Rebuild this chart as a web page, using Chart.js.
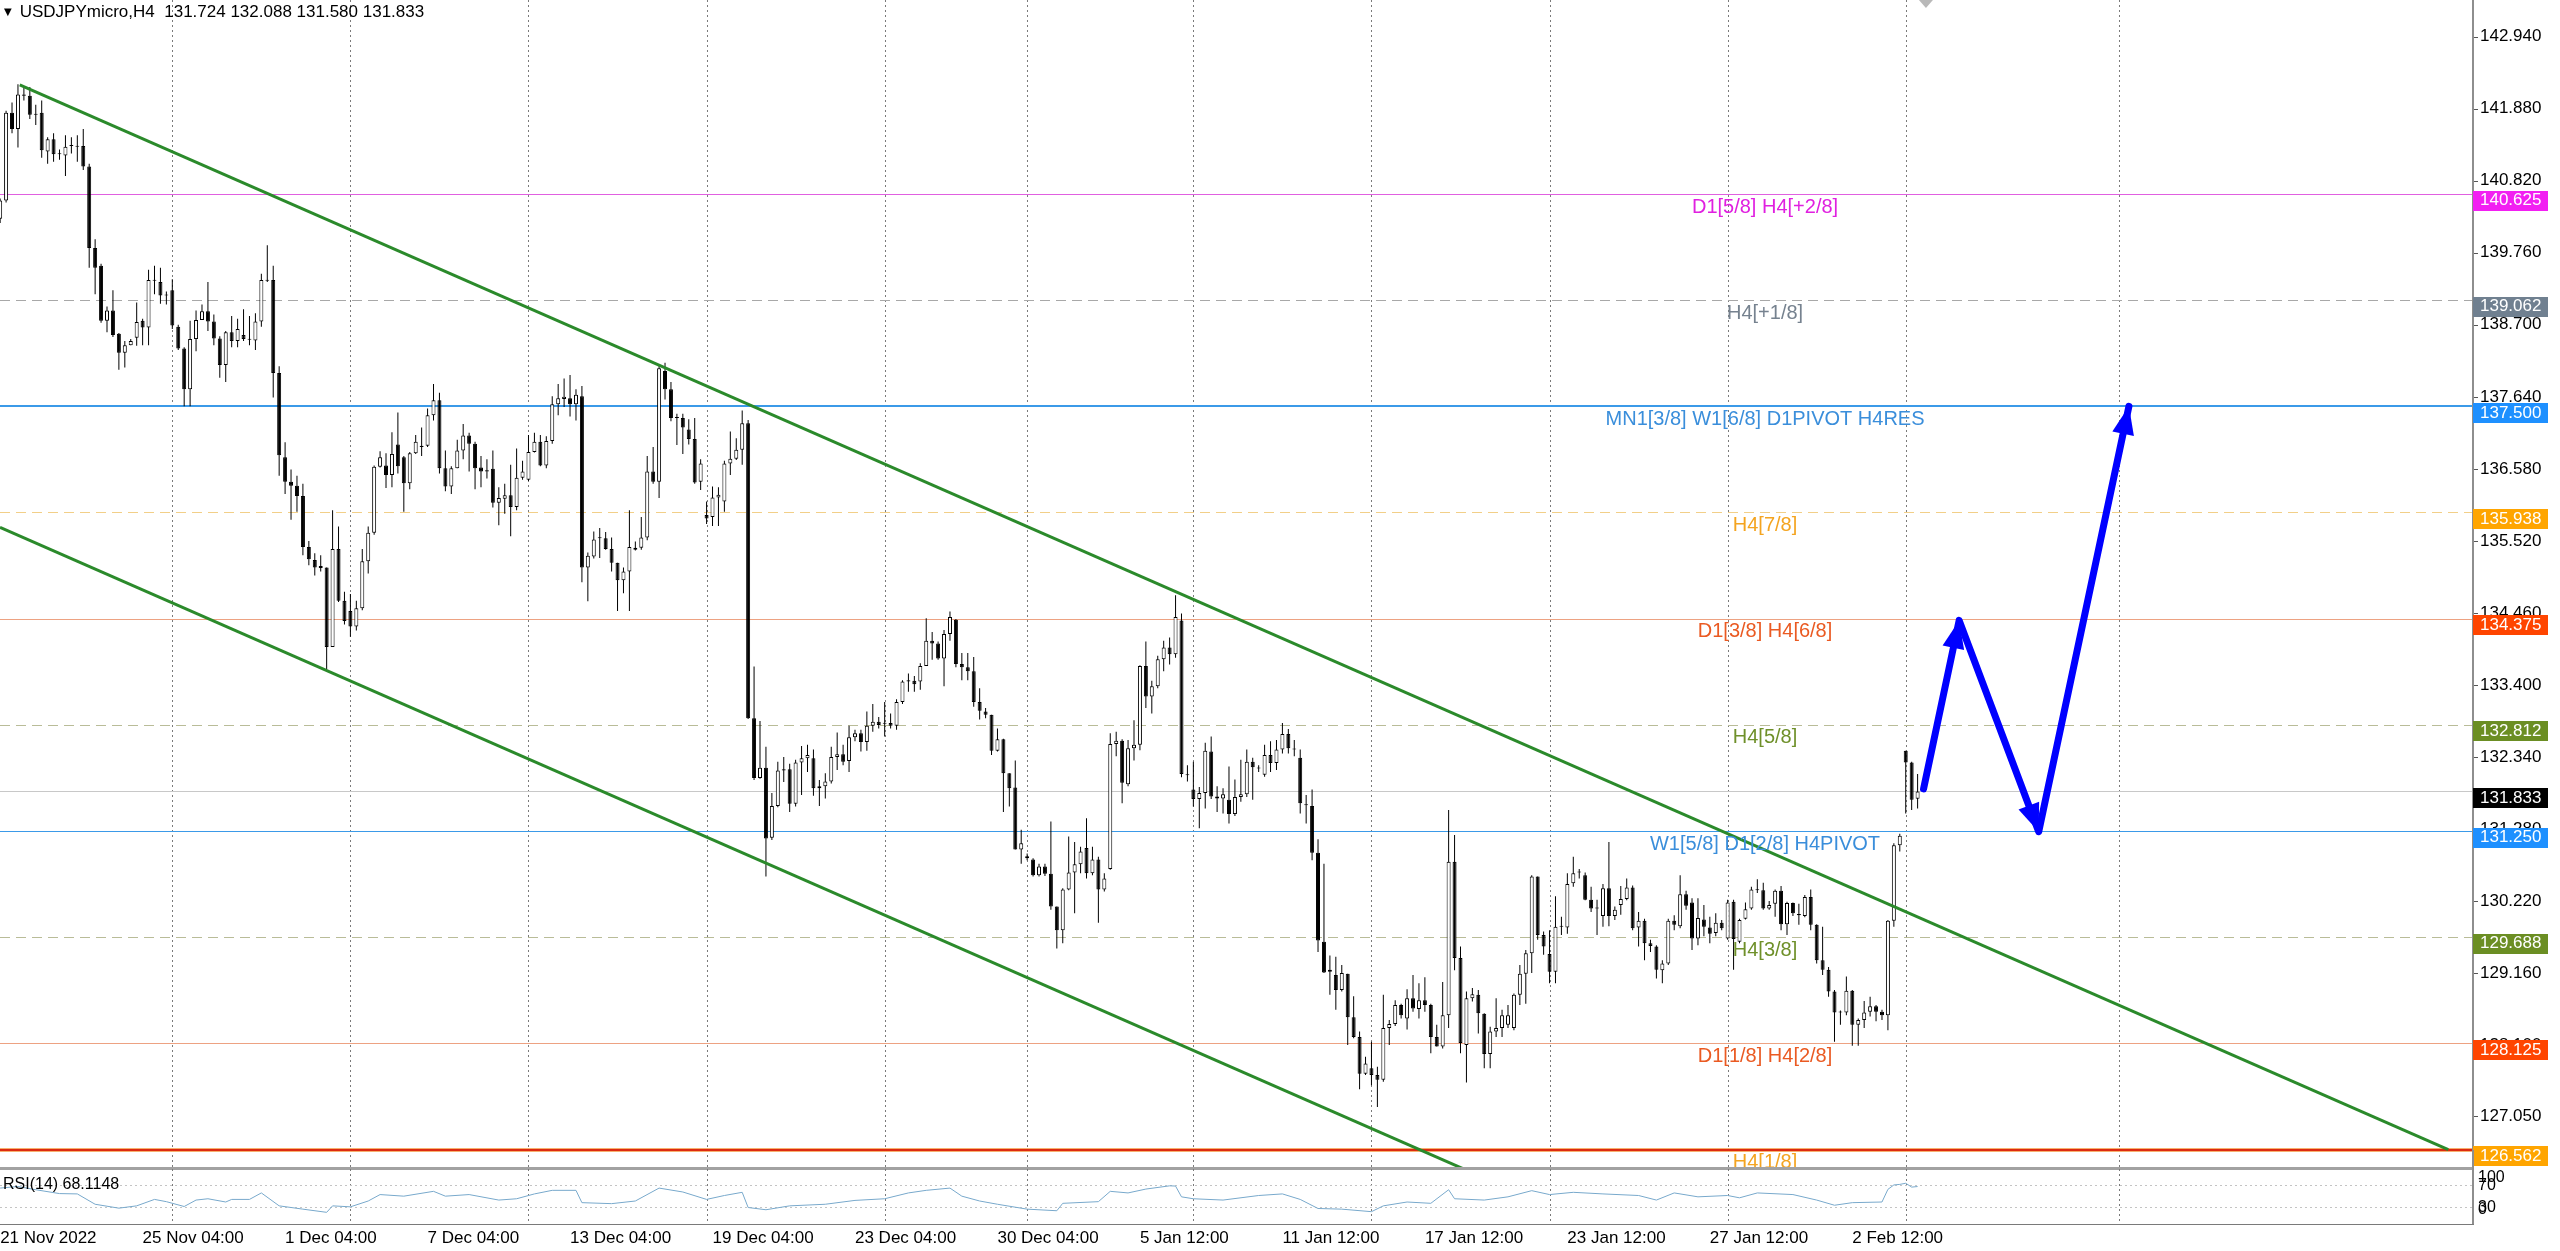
<!DOCTYPE html>
<html>
<head>
<meta charset="utf-8">
<title>USDJPYmicro,H4</title>
<script src="https://cdn.jsdelivr.net/npm/chart.js@4.4.1/dist/chart.umd.min.js"></script>
<style>
  html, body { margin: 0; padding: 0; background: #fff; }
  body { position: relative; width: 2560px; height: 1251px; overflow: hidden; font-family: "Liberation Sans", Arial, sans-serif; }
  canvas { position: absolute; left: 0; }
  #mainChart { top: 0; }
  #rsiChart { top: 1150px; }
  .caption { position: absolute; color: #000; white-space: pre; line-height: 20px; }
  #title { left: 4px; top: 2px; font-size: 17px; }
  #title .tri { font-family: "DejaVu Sans"; font-size: 10px; position: relative; top: -2px; margin-right: 8px; }
  #rsiTitle { left: 3px; top: 1174px; font-size: 16px; }
</style>
</head>
<body>
<canvas id="mainChart" width="2560" height="1171"></canvas>
<canvas id="rsiChart" width="2560" height="101"></canvas>
<div id="title" class="caption"></div>
<div id="rsiTitle" class="caption"></div>

<script>
// ---------- data (H4 bars, bar 1 = 21 Nov 2022 04:00) ----------
const symbolName = 'USDJPYmicro,H4';
const firstBar = 1;

const opens = [
  140.26,140.53,141.82,141.58,142.09,142.07,141.80,141.82,141.25,141.43,
  141.21,141.19,141.33,141.33,141.33,141.03,139.83,139.57,138.76,138.91,
  138.57,138.29,138.40,138.51,138.76,138.66,139.36,139.33,139.13,139.21,
  138.67,138.35,137.75,138.49,138.77,138.90,138.75,138.50,138.11,138.59,
  138.46,138.55,138.49,138.47,138.75,139.35,139.36,137.99,136.75,136.39,
  136.33,136.18,135.43,135.24,135.12,135.13,133.96,135.40,134.64,134.49,
  134.26,134.53,135.22,135.64,136.61,136.63,136.49,136.94,136.75,136.37,
  136.81,136.90,136.92,137.37,137.59,136.59,136.32,136.59,136.85,137.07,
  136.95,136.60,136.56,136.58,136.08,136.14,136.19,136.02,136.45,136.42,
  136.83,136.98,136.63,136.99,137.53,137.61,137.62,137.53,137.65,135.13,
  135.29,135.56,135.56,135.40,135.20,134.94,135.07,135.39,135.42,135.57,
  136.54,136.39,138.02,137.75,137.33,137.33,137.16,137.02,136.39,135.90,
  135.87,136.16,136.10,136.66,136.73,136.86,137.25,132.91,132.03,132.18,
  131.15,131.62,132.14,132.16,131.65,132.26,132.32,132.32,131.88,131.91,
  131.98,132.34,132.38,132.28,132.63,132.69,132.56,132.80,132.86,132.83,
  132.84,132.80,133.15,133.45,133.46,133.45,133.68,134.05,134.01,133.79,
  134.15,134.36,133.71,133.66,133.60,133.15,133.01,132.96,132.43,132.60,
  132.10,131.89,130.98,130.88,130.83,130.60,130.73,130.62,130.14,129.79,
  130.39,130.64,130.76,131.00,130.63,130.83,130.39,130.69,132.53,132.58,
  131.94,132.47,132.52,133.68,133.23,133.38,133.78,133.95,133.85,134.35,
  132.07,131.86,131.72,131.81,132.42,131.76,131.73,131.71,131.50,131.75,
  131.79,132.27,132.17,132.08,132.37,132.25,132.45,132.68,132.46,132.33,
  131.63,131.62,130.93,129.62,129.18,129.13,128.91,129.15,128.51,128.22,
  127.68,127.76,127.66,127.59,128.35,128.41,128.69,128.49,128.79,128.63,
  128.76,128.69,128.22,128.08,128.54,130.80,129.38,128.10,128.79,128.84,
  128.56,127.97,128.30,128.35,128.40,128.35,128.84,129.15,129.45,130.58,
  129.72,129.44,129.18,129.84,129.83,130.48,130.64,130.60,130.24,130.11,
  130.00,130.41,130.00,130.16,130.25,130.42,129.83,129.93,129.60,129.55,
  129.20,129.30,129.93,129.85,130.32,130.20,129.67,129.95,129.83,129.75,
  129.90,129.67,130.21,129.62,129.96,130.11,130.38,130.38,130.11,130.18,
  130.37,129.88,130.19,130.03,130.00,130.28,129.87,129.35,129.21,128.89,
  128.58,128.58,128.90,128.40,128.47,128.59,128.67,128.59,128.54,129.93,
  131.04,132.43,132.26,131.724
];
const highs = [
  140.56,141.85,141.97,142.24,142.21,142.20,141.94,142.00,141.46,141.52,
  141.28,141.49,141.46,141.49,141.58,141.07,139.96,139.60,138.97,139.21,
  138.58,138.46,138.49,139.03,138.79,139.51,139.57,139.54,139.19,139.37,
  138.70,138.37,138.76,138.91,139.00,139.33,138.85,138.53,138.61,138.83,
  138.79,138.93,138.83,138.87,139.45,139.87,139.57,138.09,136.97,136.57,
  136.48,136.36,135.52,135.34,135.31,135.13,135.97,135.73,134.77,134.74,
  134.64,135.40,135.73,136.63,136.84,136.81,137.12,137.41,136.77,136.83,
  137.08,137.19,137.47,137.83,137.70,136.85,136.62,137.01,137.24,137.11,
  136.98,136.77,136.72,136.85,136.31,136.36,136.64,136.88,136.70,137.08,
  137.11,137.08,137.06,137.65,137.83,137.91,137.96,137.75,137.80,135.35,
  135.66,135.71,135.65,135.57,135.20,135.13,135.97,135.51,135.87,136.77,
  136.90,138.11,138.14,137.86,137.39,137.39,137.31,137.33,136.72,136.10,
  136.32,136.31,136.70,137.13,137.03,137.44,137.30,133.67,132.87,132.49,
  131.81,132.27,132.34,132.24,132.30,132.50,132.52,132.45,132.00,132.10,
  132.49,132.70,132.52,132.80,132.74,132.74,133.01,133.12,132.93,133.15,
  132.98,133.19,133.47,133.57,133.53,133.72,134.38,134.18,134.04,134.21,
  134.48,134.37,133.87,133.87,133.81,133.35,133.06,132.96,132.76,132.61,
  132.10,132.29,131.27,130.92,130.85,130.77,130.77,131.39,130.14,130.41,
  131.17,131.09,131.02,131.44,131.02,130.87,130.63,132.69,132.71,132.60,
  132.59,132.88,133.69,134.04,133.46,133.83,134.05,134.10,134.72,134.45,
  132.22,132.27,131.90,132.55,132.64,131.91,131.88,132.20,132.01,132.30,
  132.45,132.33,132.22,132.52,132.57,132.59,132.84,132.75,132.59,132.45,
  131.78,131.86,131.13,130.77,129.42,129.40,129.28,129.15,128.82,128.30,
  127.93,128.15,127.78,128.84,128.47,128.76,128.71,128.92,129.13,129.01,
  129.10,128.71,128.40,129.03,131.56,131.19,129.55,128.89,128.94,128.91,
  128.57,128.37,128.79,128.62,128.69,128.86,129.28,129.50,130.60,130.58,
  129.77,129.79,130.29,129.99,130.63,130.87,130.69,130.64,130.43,130.24,
  130.47,131.09,130.14,130.44,130.55,130.45,130.06,129.96,129.65,129.57,
  129.35,129.96,130.01,130.60,130.37,130.26,130.26,130.16,129.99,130.04,
  129.94,130.24,130.24,129.96,130.20,130.43,130.54,130.49,130.22,130.39,
  130.44,130.21,130.20,130.18,130.31,130.39,129.88,129.84,129.25,128.91,
  128.61,129.11,128.91,128.49,128.75,128.81,128.69,128.62,129.94,131.07,
  131.21,132.43,132.27,132.088
];
const lows = [
  140.20,140.50,141.52,141.31,142.00,141.73,141.64,141.16,141.07,141.10,
  141.13,140.89,141.22,141.10,140.98,139.54,139.15,138.73,138.59,138.52,
  138.04,138.07,138.40,138.39,138.40,138.40,139.15,139.01,139.00,138.64,
  138.33,137.50,137.50,138.31,138.77,138.61,138.40,137.92,137.86,138.37,
  138.37,138.46,138.40,138.33,138.67,139.33,137.63,136.48,136.21,135.83,
  135.95,135.31,135.16,135.01,135.07,133.63,133.96,134.62,134.29,134.11,
  134.20,134.50,135.04,135.61,136.60,136.30,136.31,136.51,135.95,136.28,
  136.80,136.77,136.90,137.29,136.51,136.25,136.21,136.59,136.72,136.54,
  136.28,136.31,136.44,136.01,135.75,135.92,135.59,135.97,136.42,136.40,
  136.82,136.62,136.59,136.95,137.37,137.49,137.35,137.29,134.91,134.63,
  135.26,135.27,135.39,135.07,134.49,134.75,134.49,135.38,135.39,135.53,
  136.36,136.15,137.60,137.28,136.93,136.80,136.94,136.36,136.27,135.77,
  135.74,135.74,135.95,136.49,136.71,136.64,132.90,132.00,132.02,130.58,
  131.12,131.60,131.97,131.53,131.61,131.78,132.12,131.77,131.62,131.73,
  131.95,132.15,132.22,132.12,132.57,132.42,132.43,132.71,132.76,132.64,
  132.76,132.74,133.12,133.30,133.30,133.33,133.68,133.77,133.77,133.38,
  134.05,133.66,133.47,133.47,133.08,132.89,132.91,132.37,132.42,131.53,
  131.61,130.98,130.77,130.82,130.58,130.58,130.59,130.09,129.52,129.60,
  130.38,130.04,130.63,130.55,130.60,129.90,130.36,130.68,132.35,131.66,
  131.91,132.29,132.44,133.06,132.98,133.35,133.60,133.70,133.80,132.04,
  131.98,131.61,131.29,131.58,131.72,131.53,131.51,131.36,131.47,131.68,
  131.75,131.71,132.12,132.05,132.12,132.15,132.39,132.39,132.35,131.51,
  131.36,130.82,129.47,129.16,128.84,128.62,128.89,128.10,128.20,127.45,
  127.66,127.51,127.19,127.56,128.10,128.38,128.49,128.33,128.59,128.49,
  128.59,127.98,128.08,128.05,128.35,129.20,127.98,127.55,128.74,128.27,
  127.76,127.76,128.22,128.22,128.35,128.32,128.69,128.71,129.16,129.65,
  129.43,129.01,129.01,129.72,129.74,130.43,130.55,130.23,130.06,129.72,
  129.84,129.85,129.94,130.02,130.23,129.79,129.55,129.35,129.47,129.08,
  129.01,129.28,129.79,129.82,130.09,129.50,129.57,129.70,129.60,129.70,
  129.79,129.65,129.21,129.60,129.95,130.09,130.34,130.09,130.09,129.99,
  129.79,129.72,130.00,129.87,129.98,129.79,129.30,129.13,128.81,128.15,
  128.40,128.54,128.09,128.09,128.35,128.52,128.45,128.47,128.32,129.84,
  130.95,131.51,131.56,131.580
];
const closes = [
  140.53,141.82,141.58,142.09,142.07,141.79,141.79,141.27,141.43,141.21,
  141.22,141.32,141.33,141.32,141.03,139.83,139.54,138.76,138.91,138.55,
  138.29,138.40,138.46,138.74,138.66,139.36,139.35,139.13,139.14,138.69,
  138.35,137.75,138.49,138.77,138.90,138.75,138.50,138.11,138.59,138.46,
  138.64,138.49,138.48,138.75,139.36,139.36,137.99,136.78,136.39,136.33,
  136.18,135.43,135.25,135.13,135.15,133.96,135.40,134.64,134.34,134.26,
  134.53,135.22,135.64,136.61,136.75,136.49,136.80,136.62,136.37,136.81,
  136.98,136.92,137.37,137.59,136.59,136.32,136.59,136.85,137.07,136.95,
  136.59,136.54,136.54,136.08,136.15,136.19,136.02,136.45,136.54,136.83,
  136.98,136.63,136.99,137.53,137.62,137.64,137.53,137.67,135.13,135.30,
  135.54,135.56,135.40,135.20,134.94,135.07,135.43,135.42,135.57,136.54,
  136.39,138.06,137.75,137.33,137.33,137.19,137.02,136.38,136.66,135.85,
  136.16,136.20,136.66,136.73,136.86,137.25,132.91,132.03,132.18,131.14,
  131.62,132.14,132.16,131.65,132.26,132.32,132.37,131.88,131.91,131.98,
  132.34,132.38,132.27,132.63,132.69,132.56,132.80,132.86,132.81,132.83,
  132.80,133.15,133.45,133.47,133.41,133.68,134.05,134.01,133.79,134.15,
  134.40,133.71,133.66,133.60,133.15,133.02,132.96,132.43,132.60,132.10,
  131.88,130.98,131.07,130.85,130.60,130.73,130.62,130.14,129.79,130.39,
  130.64,130.76,130.95,130.63,130.83,130.39,130.55,132.53,132.58,131.96,
  132.47,132.52,133.68,133.23,133.38,133.78,133.95,133.85,134.40,132.09,
  132.08,131.72,131.81,132.43,131.76,131.73,131.79,131.50,131.75,131.79,
  132.27,132.19,132.17,132.37,132.25,132.45,132.68,132.47,132.45,131.66,
  131.63,130.93,129.64,129.17,129.21,128.91,129.16,128.51,128.22,127.68,
  127.83,127.66,127.59,128.35,128.41,128.69,128.54,128.79,128.64,128.76,
  128.69,128.22,128.08,128.54,130.80,129.38,128.13,128.79,128.85,128.57,
  127.97,128.30,128.35,128.54,128.54,128.84,129.15,129.45,130.58,129.72,
  129.55,129.18,129.84,129.84,130.47,130.63,130.64,130.24,130.11,130.11,
  130.41,130.00,130.09,130.25,130.42,129.82,129.93,129.60,129.56,129.21,
  129.30,129.93,129.87,130.32,130.15,129.67,129.97,129.84,129.74,129.90,
  129.82,130.20,129.66,129.94,130.10,130.39,130.38,130.11,130.16,130.37,
  129.88,130.19,130.04,130.01,130.28,129.87,129.35,129.21,128.89,128.58,
  128.58,128.90,128.40,128.47,128.58,128.67,128.59,128.54,129.93,131.04,
  131.18,132.26,131.71,131.833
];

// time axis
const timeLabels = ['21 Nov 2022','25 Nov 04:00','1 Dec 04:00','7 Dec 04:00','13 Dec 04:00','19 Dec 04:00',
  '23 Dec 04:00','30 Dec 04:00','5 Jan 12:00','11 Jan 12:00','17 Jan 12:00','23 Jan 12:00','27 Jan 12:00','2 Feb 12:00'];
const timeLabelBars = [1,25,49,73,97,121,145,169,193,217,241,265,289,313];
const weekStartBars = [30,60,90,120,150,174,202,232,262,292,322,358];
const shiftMarkBar = 325.4;

// price axis
const priceTicks = [142.94,141.88,140.82,139.76,138.70,137.64,136.58,135.52,134.46,133.40,132.34,131.28,130.22,129.16,128.10,127.05];

// Murrey levels
const levelPrices = [140.625,139.062,137.500,135.938,134.375,132.812,131.250,129.688,128.125,126.562];
const levelNames = ['D1[5/8] H4[+2/8]','H4[+1/8]','MN1[3/8] W1[6/8] D1PIVOT H4RES','H4[7/8]','D1[3/8] H4[6/8]',
  'H4[5/8]','W1[5/8] D1[2/8] H4PIVOT','H4[3/8]','D1[1/8] H4[2/8]','H4[1/8]'];

// channel and forecast (bar index, price)
const upperChannelX = [4.3, 413.4];
const upperChannelY = [142.23, 126.56];
const lowerChannelX = [0.98, 260];
const lowerChannelY = [135.72, 125.80];
const forecastX = [325, 331, 344.4, 359.6];
const forecastY = [131.87, 134.35, 131.24, 137.50];

// RSI(14)
const rsiIdx = [1,4,7,11,14,17,21,24,27,29,32,34,36,39,40,43,45,48,52,56,
  57,60,63,65,69,74,76,80,85,88,91,94,98,99,104,108,112,116,120,123,
  126,127,130,134,140,145,150,154,157,161,163,166,169,174,179,180,186,188,191,194,
  198,199,200,202,207,213,217,220,223,227,232,234,238,242,245,246,251,255,259,262,
  266,271,277,280,283,287,292,294,297,303,307,310,313,318,319,320,321,322,323,324];
const rsiVal = [65.3,68.2,62.3,55.3,54.7,35.9,28.8,33.0,44.7,40.6,31.8,43.5,45.9,40.0,44.7,44.7,56.5,33.0,27.0,21.2,
  33.0,31.2,41.8,53.5,50.6,59.4,50.6,53.5,43.5,45.9,54.7,61.2,61.2,38.8,37.0,41.8,65.3,58.2,44.7,51.8,
  57.6,30.0,25.9,33.0,35.9,42.9,45.9,56.5,61.2,65.3,50.6,41.8,35.9,27.0,24.1,37.6,40.6,59.4,56.5,63.5,
  69.4,69.0,49.4,45.9,43.5,51.8,54.7,44.7,28.2,27.0,22.4,33.0,40.0,37.6,62.3,45.9,43.5,49.4,60.6,53.5,
  57.6,54.7,51.8,43.5,56.5,49.4,51.8,47.6,56.5,53.5,43.5,34.1,38.8,40.0,63.0,71.0,72.0,74.1,67.1,68.1];
const rsiLast = 68.1148;
const rsiLevels = [70, 30];
const rsiTicks = [100, 70, 30, 0];

// ---------- layout / style ----------
const X_MIN = 0.975, X_MAX = 417.39;
const Y_MIN = 126.306, Y_MAX = 143.48;
const AXIS_W = 88;
const CAPTION_BAR = 298.3;
const FONT = '"Liberation Sans", Arial, sans-serif';

const levelStyles = [
  {line: '#e060e0', width: 1, dash: [],      text: '#e020e0', box: '#f21ff2'},
  {line: '#a8a8a8', width: 1, dash: [10, 6], text: '#76828f', box: '#708090'},
  {line: '#3b9ae8', width: 2, dash: [],      text: '#3a8edb', box: '#1e90ff'},
  {line: '#f2cf88', width: 1, dash: [10, 6], text: '#f4a420', box: '#ffa500'},
  {line: '#eda282', width: 1, dash: [],      text: '#ea5a22', box: '#ff4500'},
  {line: '#b9bc98', width: 1, dash: [10, 6], text: '#6f902a', box: '#6b8e23'},
  {line: '#3b9ae8', width: 1, dash: [],      text: '#3a8edb', box: '#1e90ff'},
  {line: '#b9bc98', width: 1, dash: [10, 6], text: '#6f902a', box: '#6b8e23'},
  {line: '#eda282', width: 1, dash: [],      text: '#ea5a22', box: '#ff4500'},
  {line: '#dd2a10', width: 2, dash: [],      text: '#f4a420', box: '#ffa500', halo: '#f6b070'}
];

const lastIdx = opens.length - 1;
document.getElementById('title').innerHTML = '<span class="tri">\u25BC</span>' + symbolName + '  ' +
  [opens[lastIdx], highs[lastIdx], lows[lastIdx], closes[lastIdx]].map(v => v.toFixed(3)).join(' ');
document.getElementById('rsiTitle').textContent = 'RSI(14) ' + rsiLast.toFixed(4);

const barIdx = opens.map((_, k) => k + firstBar);
const isBull = closes.map((c, k) => c >= opens[k]);
const pts = (xs, ys) => xs.map((x, k) => ({x: x, y: ys[k]}));

// dotted vertical separators, one per trading week
const weekGrid = {
  id: 'weekGrid',
  beforeDatasetsDraw(chart) {
    const {ctx, chartArea: a, scales: {x}} = chart;
    ctx.save();
    ctx.strokeStyle = '#7a7a7a';
    ctx.lineWidth = 1;
    ctx.setLineDash([2, 3]);
    weekStartBars.forEach(b => {
      const px = Math.round(x.getPixelForValue(b)) + 0.5;
      ctx.beginPath();
      ctx.moveTo(px, a.top);
      ctx.lineTo(px, a.bottom);
      ctx.stroke();
    });
    ctx.restore();
  }
};

function arrowHead(ctx, from, to) {
  const ang = Math.atan2(to.y - from.y, to.x - from.x);
  const L = 28, W = 11;
  const bx = to.x - L * Math.cos(ang), by = to.y - L * Math.sin(ang);
  ctx.beginPath();
  ctx.moveTo(to.x, to.y);
  ctx.lineTo(bx + W * Math.sin(ang), by - W * Math.cos(ang));
  ctx.lineTo(bx - W * Math.sin(ang), by + W * Math.cos(ang));
  ctx.closePath();
  ctx.fill();
}

const levelsPlugin = {
  id: 'levels',
  beforeDatasetsDraw(chart) {
    const {ctx, chartArea: a, scales: {y}} = chart;
    ctx.save();
    levelPrices.forEach((p, k) => {
      const st = levelStyles[k];
      const py = Math.round(y.getPixelForValue(p)) + (st.width % 2 ? 0.5 : 0);
      if (st.halo) {
        ctx.strokeStyle = st.halo;
        ctx.lineWidth = st.width + 2;
        ctx.setLineDash([]);
        ctx.beginPath(); ctx.moveTo(a.left, py); ctx.lineTo(a.right, py); ctx.stroke();
      }
      ctx.strokeStyle = st.line;
      ctx.lineWidth = st.width;
      ctx.setLineDash(st.dash);
      ctx.beginPath(); ctx.moveTo(a.left, py); ctx.lineTo(a.right, py); ctx.stroke();
    });
    const ly = Math.round(y.getPixelForValue(closes[lastIdx])) + 0.5;
    ctx.strokeStyle = '#c8c8c8';
    ctx.lineWidth = 1;
    ctx.setLineDash([]);
    ctx.beginPath(); ctx.moveTo(a.left, ly); ctx.lineTo(a.right, ly); ctx.stroke();
    ctx.restore();
  },
  afterDatasetsDraw(chart) {
    const {ctx, chartArea: a, scales: {x, y}} = chart;
    // arrow heads of the forecast path
    const p = chart.getDatasetMeta(0).data.map(e => ({x: e.x, y: e.y}));
    ctx.save();
    ctx.fillStyle = '#0000ff';
    for (let k = 1; k < p.length; k++) arrowHead(ctx, p[k - 1], p[k]);
    ctx.restore();
    // level captions
    ctx.save();
    ctx.beginPath();
    ctx.rect(a.left, a.top, a.right - a.left, a.bottom - a.top);
    ctx.clip();
    ctx.font = '20px ' + FONT;
    ctx.textAlign = 'center';
    ctx.textBaseline = 'middle';
    const cx = x.getPixelForValue(CAPTION_BAR);
    levelPrices.forEach((pr, k) => {
      ctx.fillStyle = levelStyles[k].text;
      ctx.fillText(levelNames[k], cx, y.getPixelForValue(pr) + 13);
    });
    ctx.restore();
  },
  afterDraw(chart) {
    const {ctx, chartArea: a, scales: {x, y}} = chart;
    ctx.save();
    // panel separator and price axis line
    ctx.fillStyle = '#a2a2a2';
    ctx.fillRect(0, a.bottom, a.right, 3);
    ctx.fillStyle = '#8e8e8e';
    ctx.fillRect(a.right, 0, 2, chart.height);
    // chart shift marker
    const sx = x.getPixelForValue(shiftMarkBar);
    ctx.fillStyle = '#b9b9b9';
    ctx.beginPath();
    ctx.moveTo(sx - 7, a.top);
    ctx.lineTo(sx + 7, a.top);
    ctx.lineTo(sx, a.top + 8);
    ctx.closePath();
    ctx.fill();
    // small tick marks
    ctx.strokeStyle = '#555';
    ctx.lineWidth = 1;
    priceTicks.forEach(v => {
      const py = Math.round(y.getPixelForValue(v)) + 0.5;
      ctx.beginPath(); ctx.moveTo(a.right + 2, py); ctx.lineTo(a.right + 6, py); ctx.stroke();
    });
    // price boxes
    ctx.font = '17px ' + FONT;
    ctx.textAlign = 'left';
    ctx.textBaseline = 'middle';
    const boxes = levelPrices.map((v, k) => ({v: v, c: levelStyles[k].box}));
    boxes.push({v: closes[lastIdx], c: '#000'});
    boxes.forEach(b => {
      const py = y.getPixelForValue(b.v);
      ctx.fillStyle = b.c;
      ctx.fillRect(a.right + 1, Math.round(py - 3.5), 75, 20);
      ctx.fillStyle = '#fff';
      ctx.fillText(b.v.toFixed(3), a.right + 8, py + 6.5);
    });
    ctx.restore();
  }
};

const rsiFrame = {
  id: 'rsiFrame',
  afterDraw(chart) {
    const {ctx, chartArea: a, scales: {y}} = chart;
    ctx.save();
    ctx.fillStyle = '#8e8e8e';
    ctx.fillRect(a.right, 0, 2, a.bottom + 1);
    ctx.fillStyle = '#7a7a7a';
    ctx.fillRect(0, a.bottom, a.right + 2, 1);
    ctx.fillStyle = '#000';
    ctx.font = '16px ' + FONT;
    ctx.textAlign = 'left';
    ctx.textBaseline = 'middle';
    rsiTicks.forEach(v => {
      const py = Math.min(Math.max(y.getPixelForValue(v), a.top + 9), a.bottom - 14);
      ctx.fillText(String(v), a.right + 6, py);
    });
    ctx.restore();
  }
};

// ---------- price chart ----------
new Chart(document.getElementById('mainChart'), {
  type: 'bar',
  data: {
    datasets: [
      {
        type: 'line', label: 'forecast', data: pts(forecastX, forecastY),
        borderColor: '#0000ff', borderWidth: 7, pointRadius: 0,
        borderJoinStyle: 'round', borderCapStyle: 'round', order: 0
      },
      {
        type: 'line', label: 'channel top', data: pts(upperChannelX, upperChannelY),
        borderColor: '#2b8a2b', borderWidth: 3, pointRadius: 0, order: 1
      },
      {
        type: 'line', label: 'channel bottom', data: pts(lowerChannelX, lowerChannelY),
        borderColor: '#2b8a2b', borderWidth: 3, pointRadius: 0, order: 1
      },
      {
        type: 'bar', label: 'body',
        data: barIdx.map((b, k) => ({x: b, y: [opens[k], closes[k]]})),
        backgroundColor: c => isBull[c.dataIndex] ? '#ffffff' : '#000000',
        borderColor: '#000', borderWidth: 1, borderSkipped: false,
        barThickness: 4, minBarLength: 1, grouped: false, inflateAmount: 0, order: 2
      },
      {
        type: 'bar', label: 'wick',
        data: barIdx.map((b, k) => ({x: b, y: [lows[k], highs[k]]})),
        backgroundColor: '#000', borderWidth: 0,
        barThickness: 1, grouped: false, inflateAmount: 0, order: 3
      }
    ]
  },
  options: {
    responsive: false,
    animation: false,
    events: [],
    layout: {padding: {left: 0, right: 0, top: 0, bottom: 4}},
    plugins: {legend: {display: false}, tooltip: {enabled: false}},
    scales: {
      x: {type: 'linear', min: X_MIN, max: X_MAX, offset: false, display: false},
      y: {
        type: 'linear', position: 'right', min: Y_MIN, max: Y_MAX,
        afterBuildTicks: s => { s.ticks = priceTicks.map(v => ({value: v})); },
        afterFit: s => { s.width = AXIS_W; s.paddingTop = 0; s.paddingBottom = 0; },
        ticks: {color: '#000', font: {family: FONT, size: 17}, padding: 8, autoSkip: false,
                callback: v => Number(v).toFixed(3)},
        grid: {display: false, drawTicks: false},
        border: {display: false}
      }
    }
  },
  plugins: [weekGrid, levelsPlugin]
});

// ---------- RSI panel ----------
new Chart(document.getElementById('rsiChart'), {
  type: 'line',
  data: {
    datasets: [
      {data: pts(rsiIdx, rsiVal), borderColor: '#78a9cc', borderWidth: 1, pointRadius: 0},
      {data: pts([X_MIN, X_MAX], [rsiLevels[0], rsiLevels[0]]), borderColor: '#c4c4c4', borderWidth: 1, borderDash: [2, 3], pointRadius: 0},
      {data: pts([X_MIN, X_MAX], [rsiLevels[1], rsiLevels[1]]), borderColor: '#c4c4c4', borderWidth: 1, borderDash: [2, 3], pointRadius: 0}
    ]
  },
  options: {
    responsive: false,
    animation: false,
    events: [],
    layout: {padding: {left: 0, right: 0, top: 19, bottom: 0}},
    plugins: {legend: {display: false}, tooltip: {enabled: false}},
    scales: {
      x: {
        type: 'linear', min: X_MIN, max: X_MAX, offset: false, position: 'bottom',
        afterBuildTicks: s => { s.ticks = timeLabelBars.map(v => ({value: v})); },
        afterFit: s => { s.height = 27; s.paddingLeft = 0; s.paddingRight = 0; },
        ticks: {autoSkip: false, maxRotation: 0, minRotation: 0, align: 'start', padding: 4,
                color: '#000', font: {family: FONT, size: 17},
                callback: (v, i) => timeLabels[i]},
        grid: {display: false, drawTicks: false},
        border: {display: false}
      },
      y: {
        type: 'linear', position: 'right', min: 0, max: 100,
        afterFit: s => { s.width = AXIS_W; s.paddingTop = 0; s.paddingBottom = 0; },
        ticks: {display: false},
        grid: {display: false, drawTicks: false},
        border: {display: false}
      }
    }
  },
  plugins: [weekGrid, rsiFrame]
});
</script>
</body>
</html>
